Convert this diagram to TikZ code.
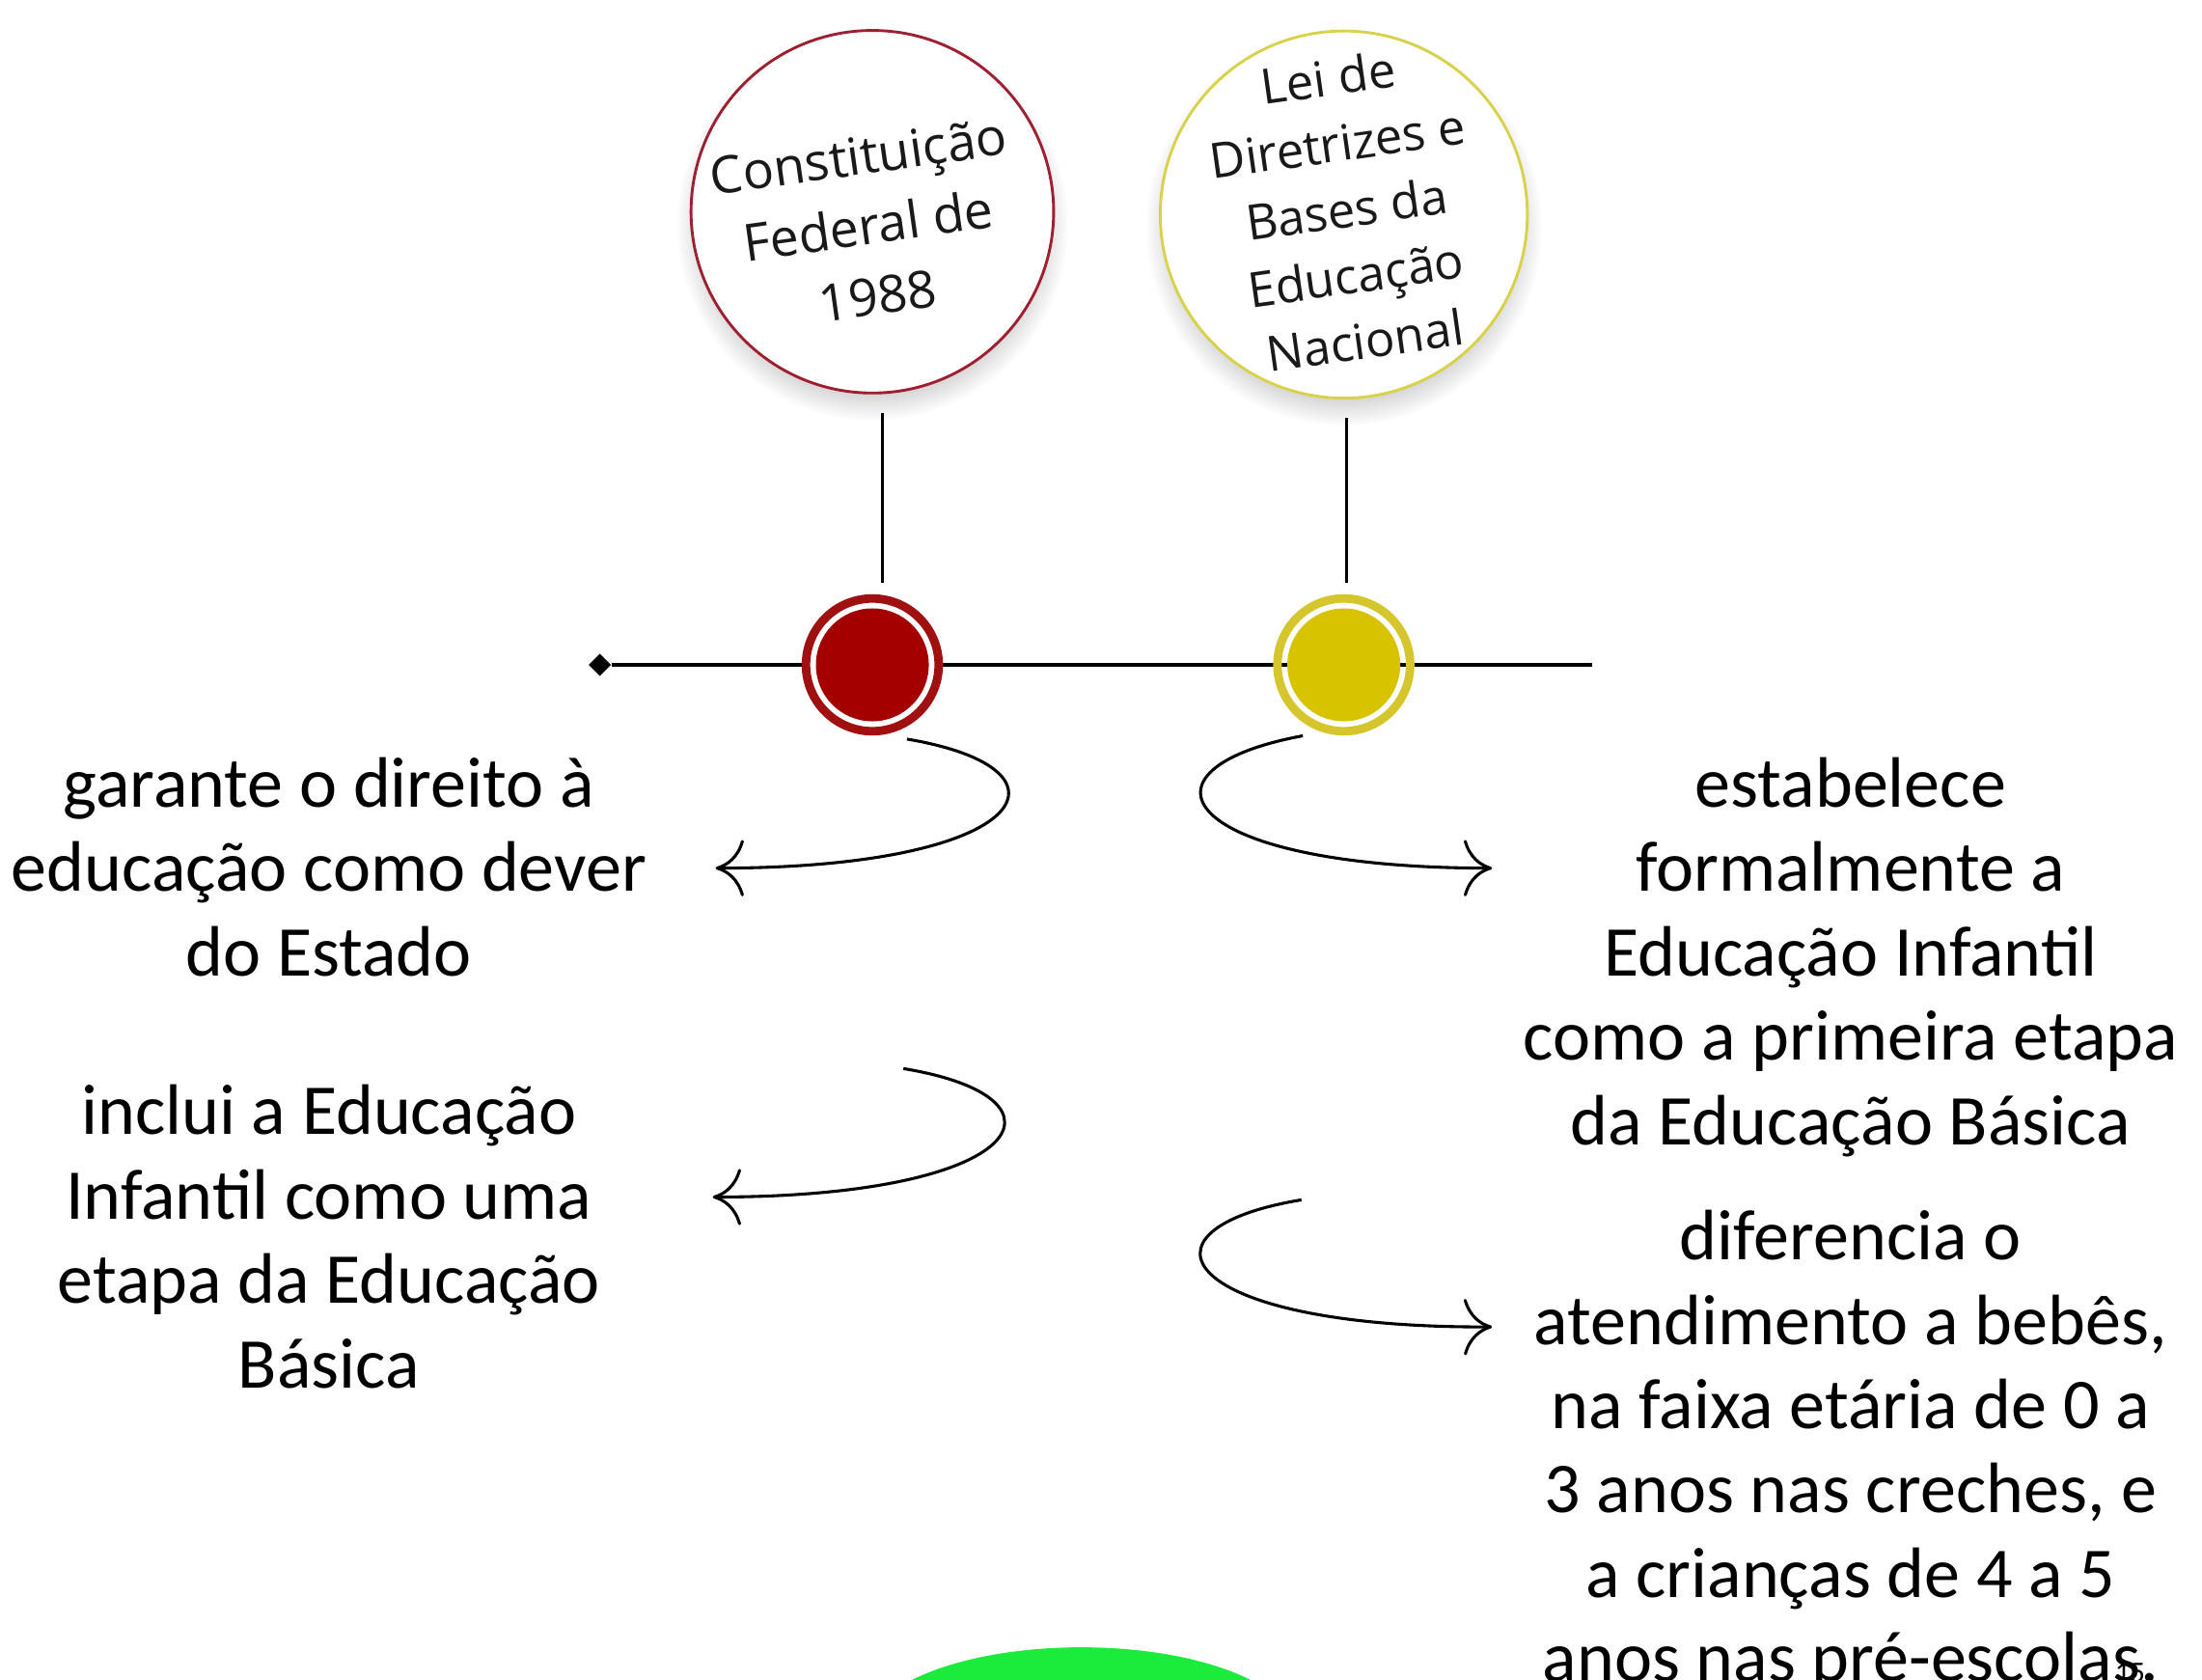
\documentclass[tikz,border=0pt]{standalone}
\usepackage{fontspec}
\setmainfont{Carlito}
\newfontfamily\circfont{Open Sans}
\usepackage{tikz}
\usepackage{xcolor}
\usetikzlibrary{
    arrows.meta,
    shapes,
    shadows,
    calc,
    positioning
}
\definecolor{cfred}{HTML}{A50000}
\definecolor{cfring}{HTML}{A01010}
\definecolor{cfedge}{HTML}{9E2030}
\definecolor{ldbyellow}{HTML}{D7C300}
\definecolor{ldbring}{HTML}{D6C62E}
\definecolor{ldbedge}{HTML}{D8D24A}
\definecolor{blobgreen}{HTML}{1BEB3A}
\tikzset{
    bigcirc/.style={circle, fill=white, line width=1.4pt, minimum size=6.42cm, outer sep=0.35cm,
        circular drop shadow={shadow xshift=0pt, shadow yshift=-6pt, shadow scale=1.08, opacity=0.35}},
    ring/.style={circle, line width=4.3pt, minimum size=2.35cm, outer sep=0.275cm},
    circtext/.style={align=center, text=black!90},
    desctext/.style={align=center, font=\fontsize{36}{42.5}\selectfont},
    bend arrow/.style={line width=1.5pt, -{Computer Modern Rightarrow[length=0.5cm,width=1cm]}}
}

\begin{document}
\begin{tikzpicture}[x=0.025cm, y=-0.025cm]
    \useasboundingbox (0,0) rectangle (1560,1189.5);
    \node[bigcirc, draw=cfedge] (cf) at (618,150) {};
    \node[bigcirc, draw=ldbedge, minimum size=6.5cm] (ldb) at (952,152) {};
    \node[circtext, rotate=8, font=\circfont\fontsize{26}{35.5}\selectfont] (cftext) at (615,160) {Constituição\\Federal de\\1988};
    \node[circtext, rotate=8, font=\circfont\fontsize{24.6}{33.4}\selectfont] (ldbtext) at (954,148) {Lei de\\Diretrizes e\\Bases da\\Educação\\Nacional};
    \node[diamond, fill=black, inner sep=0pt, minimum size=0.4cm] (tstart) at (425,471) {};
    \coordinate (tend) at (1128,471);
    \draw[line width=2pt] (tstart) -- (tend);
    \node[ring, draw=cfring, fill=white] (dotcf) at (618,471) {};
    \node[ring, draw=ldbring] (dotldb) at (952,471) {};
    \fill[cfred] (dotcf.center) circle (40);
    \fill[ldbyellow] (dotldb.center) circle (40);
    \draw[line width=1.8pt] ([xshift=0.18cm]cf.south) -- ([xshift=0.18cm]dotcf.north);
    \draw[line width=1.8pt] ([xshift=0.05cm]ldb.south) -- ([xshift=0.05cm]dotldb.north);
    \node[desctext] (garante) at (233,614) {garante o direito à\\educação como dever\\do Estado};
    \node[desctext] (inclui) at (233,876) {inclui a Educação\\Infantil como uma\\etapa da Educação\\Básica};
    \node[desctext] (estabelece) at (1311,678) {estabelece\\formalmente a\\Educação Infantil\\como a primeira etapa\\da Educação Básica};
    \node[desctext] (diferencia) at (1311,1028.5) {diferencia o\\atendimento a bebês,\\na faixa etária de 0 a\\3 anos nas creches, e\\a crianças de 4 a 5\\anos nas pré-escolas.};
    \coordinate (g1) at (507,615);
    \coordinate (s2) at (640,757);
    \coordinate (g2) at (505,848);
    \coordinate (e1) at (1057,615);
    \coordinate (s4) at (922,850);
    \coordinate (e2) at (1057,940);
    \draw[bend arrow] (dotcf.-65) .. controls (770,545) and (730,615) .. (g1);
    \draw[bend arrow] (s2) .. controls (767,778) and (727,848) .. (g2);
    \draw[bend arrow] (dotldb.-120) .. controls (795,545) and (835,615) .. (e1);
    \draw[bend arrow] (s4) .. controls (795,871) and (835,941) .. (e2);
    \fill[blobgreen] (766,1227) ellipse (152 and 60);
    \node[font=\fontsize{15}{15}\selectfont] (pagenum) at (1509,1185) {15};
\end{tikzpicture}
\end{document}
